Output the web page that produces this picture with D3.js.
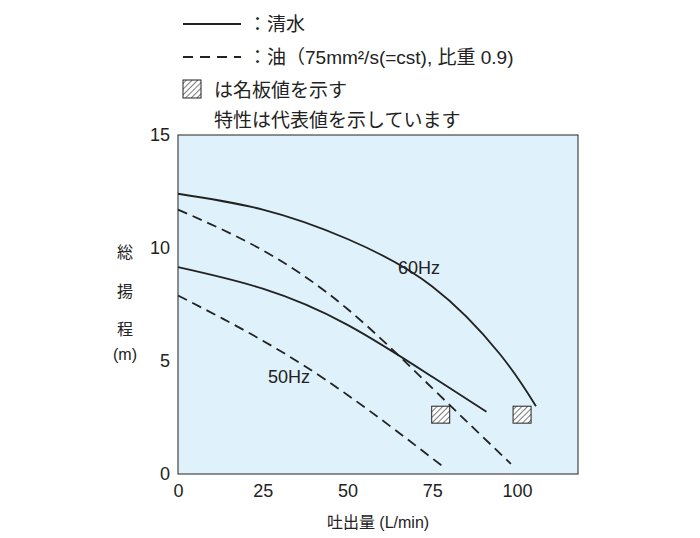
<!DOCTYPE html>
<html><head><meta charset="utf-8">
<script src="https://cdn.jsdelivr.net/npm/d3@7"></script>
<style>body{margin:0;background:#fff}text{font-family:"Liberation Sans","Noto Sans CJK JP",sans-serif;fill:#222}</style>
</head><body><svg id="c" width="700" height="538"></svg>
<script>
const xTicks = [0, 25, 50, 75, 100];
const yTicks = [0, 5, 10, 15];
const water60 = [[0,12.4],[25,11.7],[50,10.4],[75,8.3],[95,5.3],[105.6,3.0]];
const oil60 = [[0,11.7],[25,9.9],[50,7.3],[75,3.8],[98.2,0.45]];
const water50 = [[0,9.15],[25,8.2],[50,6.6],[75,4.3],[91,2.75]];
const oil50 = [[0,7.9],[25,5.9],[50,3.5],[78,0.35]];
const ratedBoxes = [[77.5,2.25,3.0],[101.5,2.25,3.0]];

const svg = d3.select('#c');
const x = d3.scaleLinear().domain([0, 118]).range([178, 578]);
const y = d3.scaleLinear().domain([0, 15]).range([474, 135]);

// hatch pattern
const pat = svg.append('defs').append('pattern').attr('id','h').attr('patternUnits','userSpaceOnUse')
  .attr('width',4).attr('height',4).attr('patternTransform','rotate(45)');
pat.append('rect').attr('width',4).attr('height',4).attr('fill','#fff');
pat.append('line').attr('x1',0).attr('y1',0).attr('x2',0).attr('y2',4).attr('stroke','#222').attr('stroke-width',1.2);

svg.append('rect').attr('x',178).attr('y',135).attr('width',400).attr('height',339)
  .attr('fill','#dff1fb').attr('stroke','#222').attr('stroke-width',1);

svg.append('g').attr('transform','translate(0,474)')
  .call(d3.axisBottom(x).tickValues(xTicks).tickSize(0).tickPadding(10))
  .call(g=>g.select('.domain').remove())
  .selectAll('text').style('font-size','18px');
svg.append('g').attr('transform','translate(178,0)')
  .call(d3.axisLeft(y).tickValues(yTicks).tickSize(0).tickPadding(8))
  .call(g=>g.select('.domain').remove())
  .selectAll('text').style('font-size','18px');

const line = d3.line().x(d=>x(d[0])).y(d=>y(d[1])).curve(d3.curveNatural);
const draw = (data, dash) => svg.append('path').datum(data).attr('d',line)
  .attr('fill','none').attr('stroke','#222').attr('stroke-width',1.8).attr('stroke-dasharray',dash);
draw(water60,null); draw(water50,null);
draw(oil60,'10,6'); draw(oil50,'10,6');

svg.selectAll('.rb').data(ratedBoxes).join('rect')
  .attr('x',d=>x(d[0])-9).attr('y',d=>y(d[2])).attr('width',18).attr('height',d=>y(d[1])-y(d[2]))
  .attr('fill','url(#h)').attr('stroke','#222');

svg.append('text').attr('x',398).attr('y',274).style('font-size','18px').text('60Hz');
svg.append('text').attr('x',268).attr('y',383).style('font-size','18px').text('50Hz');

// legend
svg.append('line').attr('x1',183).attr('x2',241).attr('y1',24).attr('y2',24).attr('stroke','#222').attr('stroke-width',2);
svg.append('line').attr('x1',183).attr('x2',241).attr('y1',57).attr('y2',57).attr('stroke','#222').attr('stroke-width',2).attr('stroke-dasharray','10,7');
svg.append('rect').attr('x',183).attr('y',80).attr('width',18).attr('height',18).attr('fill','url(#h)').attr('stroke','#222');
const leg = [[248,31,'：清水'],[248,64,'：油（75mm²/s(=cst), 比重 0.9)'],[214,97,'は名板値を示す'],[214,127,'特性は代表値を示しています']];
svg.selectAll('.lg').data(leg).join('text').attr('x',d=>d[0]).attr('y',d=>d[1]).style('font-size','19px').text(d=>d[2]);

// axis titles
const yl = [[258,'総'],[297,'揚'],[335,'程'],[360,'(m)']];
svg.selectAll('.yl').data(yl).join('text').attr('x',125).attr('y',d=>d[0]).attr('text-anchor','middle').style('font-size','16px').text(d=>d[1]);
svg.append('text').attr('x',378).attr('y',528).attr('text-anchor','middle').style('font-size','16px').text('吐出量 (L/min)');
</script></body></html>
